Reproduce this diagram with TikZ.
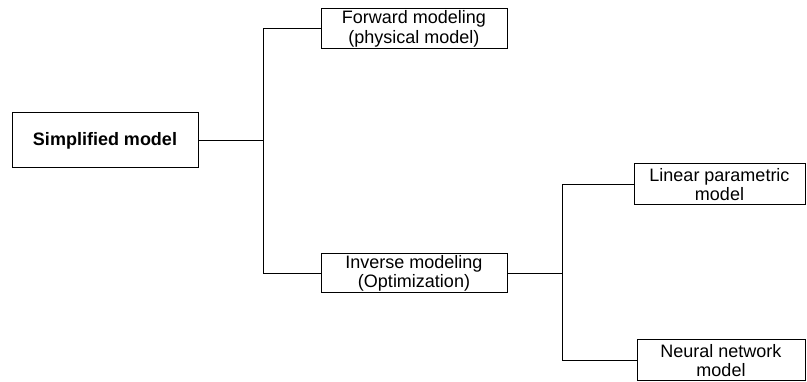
\documentclass[tikz,border=0pt]{standalone}
\usepackage{fontspec}
\setmainfont{Liberation Sans}
\usepackage{tikz}
\usetikzlibrary{positioning}
\tikzset{every box/.style={draw, line width=1pt, align=center, inner sep=0pt,
    font=\fontsize{18}{19.5}\selectfont},
  wire/.style={line width=1pt}}

\begin{document}
\begin{tikzpicture}[x=1pt, y=-1pt, every node/.style={every box}]
  \useasboundingbox (0,0) rectangle (807,382);
  \node[minimum width=186pt, minimum height=55pt, font=\fontsize{18}{19.5}\selectfont\bfseries]
    (simplified) at (105,140.5) {Simplified model};
  \node[minimum width=186pt, minimum height=40pt] (forward) at (414,29)
    {Forward modeling\\(physical model)};
  \node[minimum width=186pt, minimum height=39pt] (inverse) at (414,273.5)
    {Inverse modeling\\(Optimization)};
  \node[minimum width=171pt, minimum height=41pt] (linear) at (719.5,184.5)
    {Linear parametric\\model};
  \node[minimum width=168pt, minimum height=41pt] (neural) at (721,360.5)
    {Neural network\\model};
  \coordinate (split1) at (263,140.5);
  \coordinate (split2) at (562,273.5);
  \draw[wire] (simplified) -- (split1);
  \draw[wire] (forward) -| (split1);
  \draw[wire] (inverse) -| (split1);
  \draw[wire] (inverse) -- (split2);
  \draw[wire] (linear) -| (split2);
  \draw[wire] (neural) -| (split2);
\end{tikzpicture}
\end{document}
